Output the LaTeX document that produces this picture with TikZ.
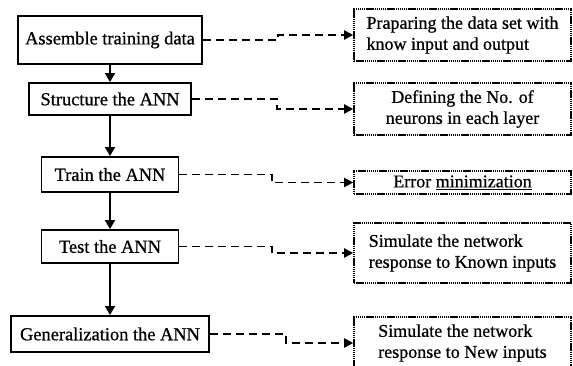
\documentclass[tikz,border=0pt]{standalone}
\usepackage{fontspec}
\setmainfont{Liberation Serif}[FakeBold=0.7]
\usepackage{tikz}
\usetikzlibrary{arrows.meta}

\begin{document}
\begin{tikzpicture}[x=1pt,y=-1pt,
    stage/.style={draw, line width=1.9pt, inner sep=2pt, font=\fontsize{18.4}{21}\selectfont},
    task/.style={draw, line width=1.6pt, dash pattern=on 1.4pt off 0.7pt, minimum width=217pt, inner sep=2pt, font=\fontsize{18}{21}\selectfont},
    flow/.style={line width=1.9pt, -{Triangle[length=9pt,width=10pt]}},
    link/.style={line width=1.9pt, dash pattern=on 8pt off 5pt, -{Triangle[length=9pt,width=9pt]}}]
    \useasboundingbox (0,0) rectangle (573,366);
    \clip (0,0) rectangle (573,366);
    % Stages of the ANN
    \node[stage, minimum width=184pt, minimum height=48pt] (assemble) at (110,40) {Assemble training data};
    \node[stage, minimum width=162pt, minimum height=32pt] (structure) at (110,99) {Structure the ANN};
    \node[stage, minimum width=137pt, minimum height=35pt] (train) at (110,174.5) {Train the ANN};
    \node[stage, minimum width=137pt, minimum height=33pt] (test) at (110,246.5) {Test the ANN};
    \node[stage, minimum width=198pt, minimum height=36pt] (general) at (110,334) {Generalization the ANN};
    % What each stage does
    \node[task, minimum height=52pt, align=left] (prepare) at (462.5,35) {Praparing the data set with\\know input and output};
    \node[task, minimum height=52pt, align=center] (define) at (462.5,109) {Defining the No. of\\neurons in each layer};
    \node[task, minimum height=23pt, inner sep=1pt, align=center] (error) at (462.5,182.5) {Error \underline{minimization}};
    \node[task, minimum height=60pt, align=left] (known) at (462.5,253) {Simulate the network\\response to Known inputs};
    \node[task, minimum height=52pt, align=left] (new) at (462.5,343) {Simulate the network\\response to New inputs};
    %
    % Stage order
    \draw[flow] (assemble) -- (structure);
    \draw[flow] (structure) -- (train);
    \draw[flow] (train) -- (test);
    \draw[flow] (test) -- (general);
    % Dashed links to the tasks
    \coordinate (j1) at (278,0);
    \coordinate (j2) at (277,0);
    \coordinate (j3) at (272,0);
    \coordinate (j5) at (286,0);
    \draw[link] (assemble.east) -- (assemble.east -| j1) |- (prepare.west);
    \draw[link] (structure.east) -- (structure.east -| j2) |- (define.west);
    \draw[link] (train.east) -- (train.east -| j3) |- (error.west);
    \draw[link] (test.east) -- (test.east -| j3) |- (known.west);
    \draw[link] (general.east) -- (general.east -| j5) |- (new.west);
\end{tikzpicture}
\end{document}
